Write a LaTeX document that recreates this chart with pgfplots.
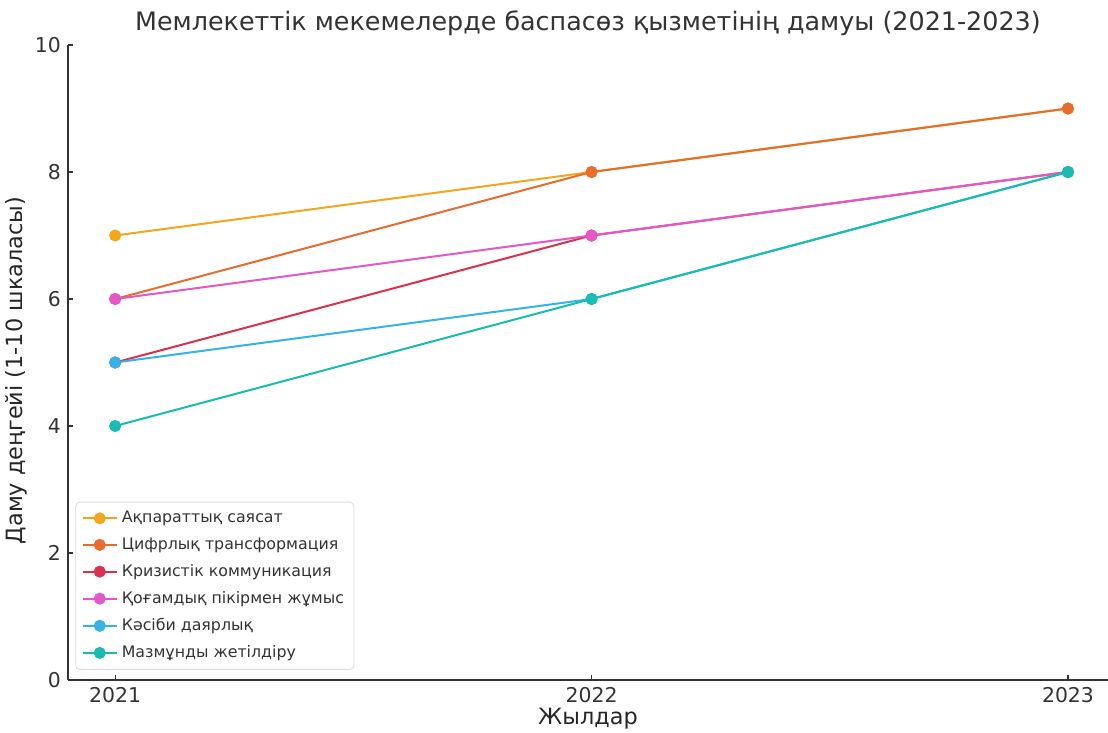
\documentclass[border=0pt]{standalone}
\usepackage{pgfplots}
\pgfplotsset{compat=1.18}
\usepackage{fontspec}
\setmainfont{DejaVu Sans}
\definecolor{c1}{HTML}{F2A71B}
\definecolor{c2}{HTML}{EA6B2C}
\definecolor{c3}{HTML}{DC304F}
\definecolor{c4}{HTML}{E556C8}
\definecolor{c5}{HTML}{33B3E7}
\definecolor{c6}{HTML}{17BDB0}
\definecolor{axc}{HTML}{333333}
\begin{document}
\begin{tikzpicture}
\begin{axis}[
  at={(0,0)}, anchor=south west,
  scale only axis, width=520pt, height=317.5pt,
  xmin=2020.901, xmax=2023.084, ymin=0, ymax=10,
  axis x line*=bottom, axis y line*=left,
  axis line style={axc, line width=0.8pt},
  xtick={2021,2022,2023}, xticklabels={2021,2022,2023},
  ytick={0,2,4,6,8,10}, yticklabels={0,2,4,6,8,10},
  tick align=inside, major tick length=2.5pt,
  tick style={axc, line width=0.6pt},
  ticklabel style={font=\fontsize{10.2}{12}\selectfont, text=axc},
  xlabel={Жылдар}, ylabel={Даму деңгейі (1-10 шкаласы)},
  label style={font=\fontsize{11.2}{13}\selectfont, text=black!85},
  xlabel style={yshift=4pt},
  ylabel style={yshift=-3pt, xshift=-4pt},
  title={Мемлекеттік мекемелерде баспасөз қызметінің дамуы (2021-2023)},
  title style={at={(axis description cs:0.5,1)}, anchor=base, yshift=1pt,
    font=\fontsize{12.7}{15}\selectfont, text=black!80},
  legend cell align=left,
  legend style={at={(0.007,0.016)}, anchor=south west, draw=black!15, rounded corners=2pt,
    font=\fontsize{7.9}{10}\selectfont, text=black!80, row sep=2pt, inner xsep=3pt, inner ysep=2.5pt},
  every axis plot/.append style={line width=1pt, mark=*, mark size=2.5pt},
]
\addplot[c1, mark options={fill=c1, draw=c1}] coordinates {(2021,7) (2022,8) (2023,9)};
\addlegendentry{Ақпараттық саясат}
\addplot[c2, mark options={fill=c2, draw=c2}] coordinates {(2021,6) (2022,8) (2023,9)};
\addlegendentry{Цифрлық трансформация}
\addplot[c3, mark options={fill=c3, draw=c3}] coordinates {(2021,5) (2022,7) (2023,8)};
\addlegendentry{Кризистік коммуникация}
\addplot[c4, mark options={fill=c4, draw=c4}] coordinates {(2021,6) (2022,7) (2023,8)};
\addlegendentry{Қоғамдық пікірмен жұмыс}
\addplot[c5, mark options={fill=c5, draw=c5}] coordinates {(2021,5) (2022,6) (2023,8)};
\addlegendentry{Кәсіби даярлық}
\addplot[c6, mark options={fill=c6, draw=c6}] coordinates {(2021,4) (2022,6) (2023,8)};
\addlegendentry{Мазмұнды жетілдіру}
\end{axis}
\pgfresetboundingbox
\path[use as bounding box] (-34pt,-26.5pt) rectangle (520pt,340pt);
\end{tikzpicture}
\end{document}
